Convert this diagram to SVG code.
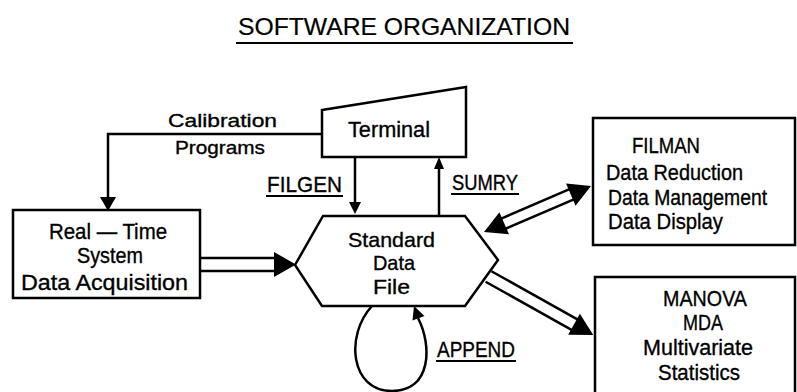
<svg xmlns="http://www.w3.org/2000/svg" width="797" height="392" viewBox="0 0 797 392">
<style>
  .t { font-family: "Liberation Sans", Arial, sans-serif; font-size: 22px; fill: #000; stroke: #000; stroke-width: 0.35; }
  .s { font-size: 19px; }
  .m { font-size: 21px; }
  .title { font-size: 24px; stroke-width: 0.2; }
  .box { fill: #fff; stroke: #000; stroke-width: 2.5; }
  .ln { fill: none; stroke: #000; stroke-width: 2.5; }
  .ul { fill: none; stroke: #000; stroke-width: 2; }
  .hd { fill: #000; stroke: none; }
</style>
<rect width="797" height="392" fill="#fff"/>

<g id="title">
  <text class="t title" x="238" y="35" textLength="332" lengthAdjust="spacingAndGlyphs">SOFTWARE ORGANIZATION</text>
  <line class="ul" x1="236" y1="43" x2="573" y2="43"/>
</g>

<g id="connectors">
  <!-- Calibration Programs: Terminal -> Real-Time -->
  <polyline class="ln" points="322,134 108,134 108,198"/>
  <polygon class="hd" points="100,197 116,197 108,211"/>
  <!-- FILGEN: Terminal -> Standard Data File -->
  <line class="ln" x1="355" y1="157" x2="355" y2="203"/>
  <polygon class="hd" points="349,202 361,202 355,214"/>
  <!-- SUMRY: Standard Data File -> Terminal -->
  <line class="ln" x1="439" y1="216" x2="439" y2="168"/>
  <polygon class="hd" points="434,169 444,169 439,157"/>
  <!-- Real-Time -> Standard Data File (double line) -->
  <line class="ln" x1="200" y1="258" x2="275" y2="258"/>
  <line class="ln" x1="200" y1="271" x2="275" y2="271"/>
  <polygon class="hd" points="274,252 296,264.5 274,277"/>
  <!-- Standard Data File <-> FILMAN -->
  <g transform="translate(484,232) rotate(-23.3)">
    <line class="ln" x1="21" y1="-5.5" x2="95.5" y2="-5.5"/>
    <line class="ln" x1="21" y1="5.5" x2="95.5" y2="5.5"/>
    <polygon class="hd" points="0,0 22,-12 22,12"/>
    <polygon class="hd" points="116.5,0 94.5,-12 94.5,12"/>
  </g>
  <!-- Standard Data File -> MANOVA -->
  <g transform="translate(488.5,276.5) rotate(29.2)">
    <line class="ln" x1="0" y1="-6" x2="99" y2="-6"/>
    <line class="ln" x1="0" y1="6" x2="99" y2="6"/>
    <polygon class="hd" points="120,0 98,-12 98,12"/>
  </g>
  <!-- APPEND loop -->
  <path class="ln" d="M372,306 C345,335 350,391 392,391 C432,391 432,345 418,318"/>
  <polygon class="hd" points="414,306 424.5,316 412.5,320.5"/>
</g>

<g id="calibration-label">
  <text class="t s" x="168" y="127" textLength="109" lengthAdjust="spacingAndGlyphs">Calibration</text>
  <text class="t s" x="175" y="154" textLength="90" lengthAdjust="spacingAndGlyphs">Programs</text>
</g>
<g id="filgen-label">
  <text class="t" x="267" y="192" textLength="75" lengthAdjust="spacingAndGlyphs">FILGEN</text>
  <line class="ul" x1="266" y1="196" x2="343" y2="196"/>
</g>
<g id="sumry-label">
  <text class="t" x="452" y="190" textLength="66" lengthAdjust="spacingAndGlyphs">SUMRY</text>
  <line class="ul" x1="451" y1="194" x2="519" y2="194"/>
</g>
<g id="append-label">
  <text class="t" x="437" y="357" textLength="78" lengthAdjust="spacingAndGlyphs">APPEND</text>
  <line class="ul" x1="436" y1="361" x2="516" y2="361"/>
</g>

<g id="terminal">
  <polygon class="box" points="322,110 466,87 466,157 322,157"/>
  <text class="t" x="348" y="137" textLength="82" lengthAdjust="spacingAndGlyphs">Terminal</text>
</g>

<g id="realtime">
  <rect class="box" x="13" y="210" width="187" height="88"/>
  <text class="t" x="49" y="239" textLength="118" lengthAdjust="spacingAndGlyphs">Real — Time</text>
  <text class="t" x="77" y="263" textLength="66" lengthAdjust="spacingAndGlyphs">System</text>
  <text class="t" x="21" y="290" textLength="167" lengthAdjust="spacingAndGlyphs">Data Acquisition</text>
</g>

<g id="standard-data-file">
  <polygon class="box" points="295,265 323,216 465,216 498,260 465,306 322,306"/>
  <text class="t m" x="348" y="247" textLength="87" lengthAdjust="spacingAndGlyphs">Standard</text>
  <text class="t m" x="373" y="270" textLength="42" lengthAdjust="spacingAndGlyphs">Data</text>
  <text class="t m" x="373" y="294" textLength="37" lengthAdjust="spacingAndGlyphs">File</text>
</g>

<g id="filman">
  <rect class="box" x="593" y="118" width="202" height="127"/>
  <text class="t" x="632" y="153" textLength="68" lengthAdjust="spacingAndGlyphs">FILMAN</text>
  <text class="t" x="606" y="180" textLength="137" lengthAdjust="spacingAndGlyphs">Data Reduction</text>
  <text class="t" x="608" y="205" textLength="159" lengthAdjust="spacingAndGlyphs">Data Management</text>
  <text class="t" x="608" y="229" textLength="115" lengthAdjust="spacingAndGlyphs">Data Display</text>
</g>

<g id="manova">
  <rect class="box" x="595" y="277" width="200" height="130"/>
  <text class="t" x="663" y="306" textLength="84" lengthAdjust="spacingAndGlyphs">MANOVA</text>
  <text class="t" x="683" y="330" textLength="40" lengthAdjust="spacingAndGlyphs">MDA</text>
  <text class="t" x="643" y="355" textLength="110" lengthAdjust="spacingAndGlyphs">Multivariate</text>
  <text class="t" x="658" y="380" textLength="82" lengthAdjust="spacingAndGlyphs">Statistics</text>
</g>
</svg>
